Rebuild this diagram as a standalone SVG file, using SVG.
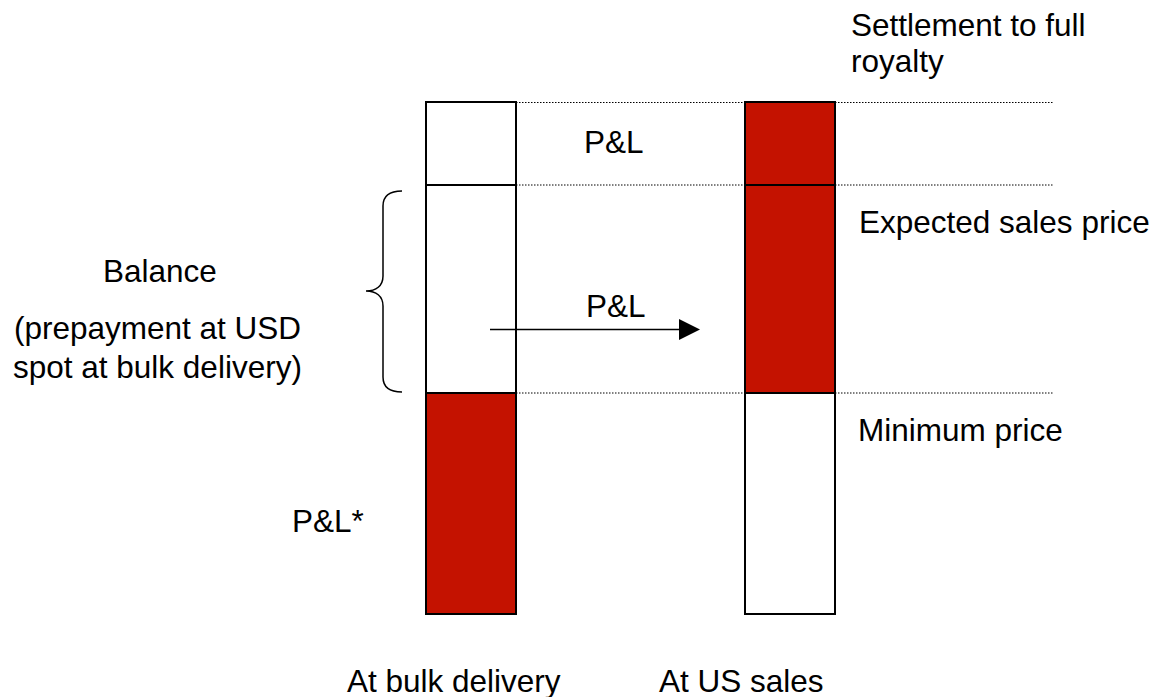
<svg xmlns="http://www.w3.org/2000/svg" width="1157" height="697" viewBox="0 0 1157 697">
<style>
text{font-family:"Liberation Sans",Arial,sans-serif;font-size:31.5px;fill:#000}
.w{fill:#fff;stroke:#000;stroke-width:2}
.r{fill:#C41200;stroke:#000;stroke-width:2}
.dot{stroke:#000;stroke-width:1;stroke-dasharray:1.5 1.5;fill:none}
</style>
<rect width="1157" height="697" fill="#fff"/>
<g id="guides">
<path class="dot" d="M516 102.5H745M835 102.5H1054M516 185H745M835 185H1054M516 393H745M835 393H1054"/>
</g>
<g id="left-column">
<rect class="w" x="426" y="102" width="90" height="83"/>
<rect class="w" x="426" y="185" width="90" height="208"/>
<rect class="r" x="426" y="393" width="90" height="221"/>
</g>
<g id="right-column">
<rect class="r" x="745" y="102" width="90" height="83"/>
<rect class="r" x="745" y="185" width="90" height="208"/>
<rect class="w" x="745" y="393" width="90" height="221"/>
</g>
<g id="connectors">
<path d="M402 191C390 191 383 196 383 206V276C383 286 376 291 366 291C376 291 383 296 383 306V377C383 387 390 392 402 392" fill="none" stroke="#000" stroke-width="1.5"/>
<line x1="490" y1="329.5" x2="681" y2="329.5" stroke="#000" stroke-width="1.5"/>
<polygon points="679,319 700,329.5 679,340" fill="#000"/>
</g>
<g id="labels">
<text x="851" y="36">Settlement to full</text>
<text x="851" y="72">royalty</text>
<text x="584" y="153">P&amp;L</text>
<text x="859" y="233">Expected sales price</text>
<text x="103" y="282">Balance</text>
<text x="586" y="317">P&amp;L</text>
<text x="14" y="339">(prepayment at USD</text>
<text x="13" y="378">spot at bulk delivery)</text>
<text x="858" y="441">Minimum price</text>
<text x="292" y="532">P&amp;L*</text>
<text x="347" y="692">At bulk delivery</text>
<text x="659" y="692">At US sales</text>
</g>
</svg>
